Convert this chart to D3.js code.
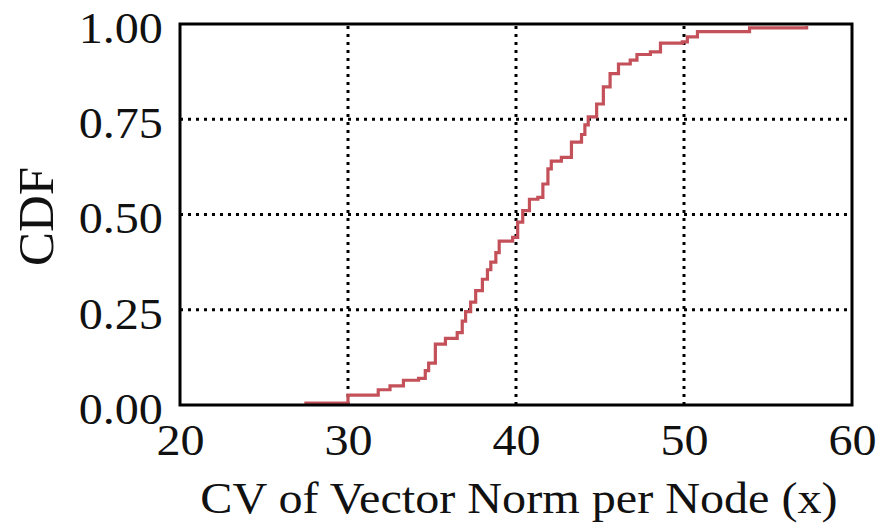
<!DOCTYPE html>
<html><head><meta charset="utf-8">
<script src="https://cdn.jsdelivr.net/npm/d3@7"></script>
<style>
html,body{margin:0;padding:0;background:#fff;}
svg{display:block;}
text{font-family:"Liberation Serif","Times New Roman",serif;fill:#111;}
</style></head>
<body>
<svg id="chart" width="891" height="527"></svg>
<script>
// data (x value, cumulative fraction), step curve
const cvValues = [27.4, 30.0, 31.8, 32.5, 33.3, 34.2, 34.6, 34.8, 35.2, 35.8, 36.5, 36.8, 37.0, 37.3, 37.6, 38.0, 38.3, 38.5, 38.8, 39.0, 39.8, 40.1, 40.4, 40.8, 41.3, 41.6, 41.9, 42.1, 42.7, 43.3, 43.9, 44.1, 44.3, 44.8, 45.2, 45.6, 46.1, 46.8, 47.2, 48.0, 48.6, 49.9, 50.2, 50.8, 53.9, 57.3];
const cdfValues = [0.005, 0.026, 0.04, 0.05, 0.065, 0.07, 0.09, 0.11, 0.16, 0.175, 0.19, 0.22, 0.245, 0.27, 0.30, 0.33, 0.355, 0.375, 0.40, 0.43, 0.44, 0.48, 0.51, 0.54, 0.545, 0.58, 0.62, 0.64, 0.65, 0.69, 0.71, 0.735, 0.756, 0.79, 0.835, 0.87, 0.895, 0.905, 0.92, 0.927, 0.95, 0.953, 0.966, 0.98, 0.99, 0.995];
const xTicks = [20, 30, 40, 50, 60];
const yTicks = [0, 0.25, 0.5, 0.75, 1.0];
const xGrid = [30, 40, 50];
const yGrid = [0.25, 0.5, 0.75];
const xTitle = "CV of Vector Norm per Node (x)";
const yTitle = "CDF";

const svg = d3.select("#chart");
const L = 180, R = 852, T = 24, B = 405;
const x = d3.scaleLinear().domain([20, 60]).range([L, R]);
const y = d3.scaleLinear().domain([0, 1]).range([B, T]);
const SX = 1.07;

// grid
svg.append("g").selectAll("line").data(xGrid).join("line")
  .attr("x1", d => x(d)).attr("x2", d => x(d)).attr("y1", B).attr("y2", T)
  .attr("stroke", "#000").attr("stroke-width", 3).attr("stroke-dasharray", "3,5");
svg.append("g").selectAll("line").data(yGrid).join("line")
  .attr("x1", L).attr("x2", R).attr("y1", d => y(d)).attr("y2", d => y(d))
  .attr("stroke", "#000").attr("stroke-width", 3).attr("stroke-dasharray", "3,5");

// curve
const pts = cvValues.map((v, i) => [v, cdfValues[i]]);
svg.append("path").datum(pts)
  .attr("fill", "none").attr("stroke", "#c4505a").attr("stroke-width", 3.2)
  .attr("d", d3.line().x(d => x(d[0])).y(d => y(d[1])).curve(d3.curveStepAfter));

// frame
svg.append("rect").attr("x", L).attr("y", T).attr("width", R - L).attr("height", B - T)
  .attr("fill", "none").attr("stroke", "#000").attr("stroke-width", 3);

// axes (labels only)
const xAxis = d3.axisBottom(x).tickValues(xTicks).tickFormat(d3.format("d")).tickSize(0).tickPadding(18);
const gx = svg.append("g").attr("transform", `translate(0,${B})`).call(xAxis);
gx.select(".domain").remove();
gx.selectAll("text").attr("font-size", 45).attr("fill", "#111")
  .attr("font-family", "Liberation Serif, serif")
  .attr("transform", `scale(${SX},1)`);

const yAxis = d3.axisLeft(y).tickValues(yTicks).tickFormat(d3.format(".2f")).tickSize(0).tickPadding(16);
const gy = svg.append("g").attr("transform", `translate(${L},0)`).call(yAxis);
gy.select(".domain").remove();
gy.selectAll("text").attr("font-size", 45).attr("fill", "#111")
  .attr("font-family", "Liberation Serif, serif")
  .attr("transform", `translate(0,4) scale(${SX},1)`);

svg.append("text").attr("transform", `translate(${(L + R) / 2 + 3},513) scale(${SX},1)`)
  .attr("text-anchor", "middle").attr("font-size", 45).text(xTitle);
svg.append("text").attr("transform", `translate(53,${(T + B) / 2 + 2}) rotate(-90)`)
  .attr("text-anchor", "middle").attr("font-size", 51).text(yTitle);
</script>
</body></html>
